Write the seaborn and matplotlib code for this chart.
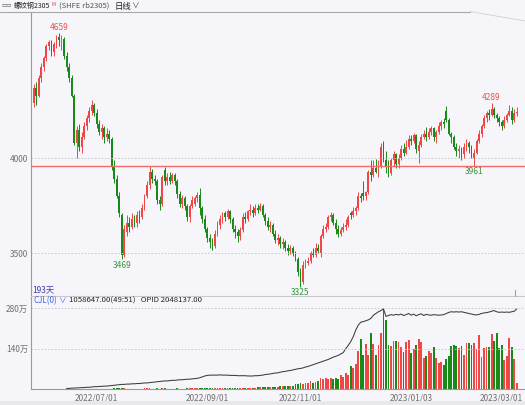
import numpy as np
import pandas as pd
import matplotlib
matplotlib.use('Agg')
import matplotlib.pyplot as plt
from matplotlib.lines import Line2D
from matplotlib.patches import Rectangle
import seaborn as sns

# Daily bars, rb2305 (SHFE)
opens = [4290, 4370, 4330, 4420, 4480, 4530, 4590, 4610, 4560, 4600,
         4640, 4620, 4630, 4540, 4480, 4420, 4330, 4080, 4150, 4060,
         4110, 4170, 4210, 4250, 4280, 4240, 4180, 4140, 4160, 4110,
         4130, 4100, 3960, 3890, 3800, 3700, 3490, 3610, 3660, 3640,
         3680, 3660, 3700, 3690, 3740, 3800, 3860, 3930, 3890, 3880,
         3780, 3760, 3940, 3880, 3900, 3880, 3910, 3880, 3810, 3760,
         3790, 3750, 3690, 3750, 3760, 3790, 3805, 3740, 3680, 3630,
         3580, 3560, 3540, 3600, 3650, 3680, 3710, 3690, 3720, 3680,
         3630, 3610, 3590, 3620, 3690, 3680, 3720, 3730, 3710, 3740,
         3730, 3750, 3700, 3670, 3640, 3650, 3600, 3570, 3580, 3550,
         3560, 3530, 3510, 3530, 3500, 3470, 3400, 3350, 3440, 3450,
         3460, 3500, 3490, 3530, 3500, 3590, 3630, 3640, 3690, 3700,
         3660, 3630, 3600, 3620, 3640, 3650, 3710, 3700, 3720, 3740,
         3800, 3815, 3800, 3820, 3930, 3910, 3950, 3930, 3960, 4080,
         3990, 3960, 3920, 3990, 4020, 3970, 4000, 4050, 4030, 4060,
         4100, 4090, 4120, 4040, 4070, 4110, 4130, 4110, 4140, 4160,
         4110, 4140, 4170, 4190, 4250, 4200, 4130, 4110, 4060, 4040,
         4050, 4020, 4060, 4080, 4060, 4000, 4030, 4090, 4130, 4170,
         4210, 4240, 4230, 4260, 4230, 4210, 4190, 4170, 4200, 4230,
         4250, 4200, 4240]
highs = [4390, 4400, 4440, 4500, 4540, 4600, 4625, 4620, 4610, 4650,
         4659, 4650, 4640, 4560, 4500, 4440, 4340, 4170, 4180, 4140,
         4190, 4230, 4270, 4306, 4290, 4260, 4200, 4180, 4170, 4160,
         4150, 4110, 3990, 3910, 3820, 3710, 3650, 3700, 3690, 3710,
         3700, 3720, 3730, 3760, 3810, 3880, 3961, 3945, 3910, 3890,
         3800, 3910, 3955, 3920, 3930, 3925, 3920, 3890, 3830, 3805,
         3800, 3760, 3760, 3800, 3800, 3820, 3845, 3750, 3700, 3640,
         3600, 3580, 3620, 3670, 3700, 3716, 3720, 3735, 3730, 3690,
         3650, 3630, 3640, 3710, 3715, 3730, 3760, 3750, 3760, 3760,
         3764, 3760, 3710, 3690, 3670, 3660, 3620, 3600, 3590, 3580,
         3570, 3550, 3545, 3540, 3510, 3480, 3420, 3460, 3470, 3480,
         3510, 3530, 3555, 3550, 3600, 3650, 3660, 3700, 3717, 3710,
         3680, 3650, 3640, 3660, 3680, 3700, 3720, 3745, 3750, 3820,
         3815, 3880, 3830, 3940, 3990, 3990, 3995, 3990, 4080, 4090,
         4040, 3990, 4000, 4040, 4030, 4020, 4070, 4080, 4096, 4120,
         4120, 4133, 4130, 4090, 4130, 4150, 4164, 4160, 4170, 4165,
         4150, 4190, 4200, 4210, 4275, 4210, 4140, 4120, 4080, 4070,
         4060, 4080, 4100, 4090, 4070, 4050, 4100, 4150, 4180, 4230,
         4250, 4260, 4289, 4270, 4240, 4220, 4200, 4220, 4240, 4280,
         4270, 4260, 4270]
lows = [4270, 4280, 4320, 4400, 4460, 4510, 4570, 4540, 4540, 4580,
        4590, 4570, 4520, 4460, 4400, 4320, 4070, 4000, 4040, 4030,
        4100, 4150, 4190, 4230, 4220, 4160, 4120, 4100, 4080, 4090,
        4080, 3940, 3870, 3790, 3690, 3469, 3480, 3590, 3610, 3630,
        3640, 3640, 3660, 3680, 3730, 3790, 3840, 3870, 3860, 3760,
        3727, 3750, 3860, 3860, 3865, 3870, 3860, 3790, 3745, 3740,
        3730, 3670, 3665, 3740, 3750, 3770, 3700, 3660, 3610, 3560,
        3530, 3517, 3530, 3590, 3630, 3660, 3670, 3680, 3660, 3610,
        3580, 3560, 3570, 3610, 3660, 3670, 3700, 3690, 3700, 3710,
        3720, 3690, 3650, 3620, 3610, 3590, 3555, 3545, 3530, 3520,
        3510, 3490, 3495, 3485, 3460, 3380, 3325, 3340, 3425, 3440,
        3450, 3480, 3480, 3500, 3480, 3580, 3610, 3630, 3670, 3650,
        3600, 3585, 3590, 3610, 3620, 3640, 3680, 3690, 3700, 3730,
        3770, 3780, 3780, 3810, 3880, 3900, 3920, 3900, 3950, 3980,
        3920, 3900, 3910, 3960, 3950, 3950, 3990, 4010, 4020, 4050,
        4070, 4080, 4030, 3975, 4060, 4100, 4090, 4100, 4120, 4090,
        4080, 4130, 4150, 4160, 4190, 4120, 4080, 4050, 4010, 4000,
        3990, 4000, 4040, 4030, 4000, 3961, 4020, 4080, 4110, 4160,
        4190, 4200, 4220, 4210, 4190, 4170, 4150, 4160, 4190, 4220,
        4180, 4190, 4220]
closes = [4370, 4330, 4420, 4480, 4530, 4590, 4610, 4560, 4600, 4640,
          4620, 4630, 4540, 4480, 4420, 4330, 4080, 4150, 4060, 4110,
          4170, 4210, 4250, 4280, 4240, 4180, 4140, 4160, 4110, 4130,
          4100, 3960, 3890, 3800, 3710, 3490, 3630, 3660, 3640, 3680,
          3660, 3700, 3690, 3740, 3800, 3860, 3930, 3890, 3880, 3780,
          3760, 3900, 3880, 3900, 3880, 3910, 3880, 3810, 3760, 3790,
          3750, 3690, 3750, 3780, 3790, 3805, 3740, 3680, 3630, 3580,
          3560, 3540, 3600, 3650, 3680, 3710, 3690, 3720, 3680, 3630,
          3610, 3590, 3620, 3690, 3680, 3720, 3730, 3710, 3740, 3730,
          3750, 3700, 3670, 3640, 3650, 3600, 3570, 3580, 3550, 3560,
          3530, 3510, 3530, 3500, 3470, 3400, 3345, 3440, 3450, 3460,
          3500, 3490, 3530, 3510, 3590, 3630, 3640, 3690, 3700, 3660,
          3630, 3600, 3620, 3640, 3650, 3690, 3700, 3720, 3740, 3800,
          3790, 3800, 3820, 3930, 3910, 3950, 3930, 3960, 4060, 3990,
          3960, 3920, 3990, 4020, 3970, 4000, 4050, 4030, 4060, 4100,
          4090, 4120, 4050, 4070, 4110, 4130, 4110, 4140, 4160, 4110,
          4140, 4170, 4190, 4180, 4200, 4130, 4110, 4060, 4040, 4050,
          4020, 4060, 4080, 4060, 4030, 4030, 4090, 4130, 4170, 4210,
          4240, 4230, 4260, 4230, 4210, 4190, 4170, 4200, 4230, 4250,
          4200, 4240, 4245]

# volume (CJL) in 万手
volumes = [0.3, 0.2, 0.4, 0.3, 0.2, 0.5, 0.4, 0.3, 0.6, 0.5,
           0.4, 0.7, 0.5, 0.6, 0.8, 0.7, 1.2, 0.9, 0.8, 0.7,
           0.9, 0.8, 1.0, 0.9, 0.8, 1.1, 1.0, 0.9, 1.0, 1.1,
           1.2, 2.5, 2.8, 3.0, 3.6, 4.2, 3.2, 2.4, 2.1, 1.8,
           2.2, 1.9, 2.3, 2.6, 2.9, 3.1, 3.8, 2.7, 2.2, 2.9,
           2.5, 3.0, 3.3, 2.4, 2.2, 2.1, 2.6, 2.9, 2.7, 2.3,
           2.5, 3.2, 3.5, 3.0, 2.8, 3.3, 4.6, 4.2, 4.8, 5.0,
           4.6, 4.2, 4.5, 4.0, 3.8, 4.1, 3.9, 4.3, 4.6, 5.2,
           5.0, 5.5, 4.8, 5.3, 4.9, 5.1, 5.6, 6.2, 5.8, 6.4,
           7.5, 9.0, 8.2, 7.8, 8.6, 9.5, 8.8, 9.2, 10.5, 9.8,
           10.2, 11.0, 10.4, 11.5, 19, 18, 22, 20, 23, 21,
           27, 23, 25, 28, 40, 34, 40, 36, 40, 34,
           40, 36, 48, 43, 57, 51, 82, 74, 89, 133,
           174, 120, 156, 120, 193, 156, 117, 154, 193, 277,
           241, 154, 151, 167, 167, 163, 146, 130, 162, 171,
           125, 140, 154, 173, 165, 108, 114, 133, 125, 145,
           108, 91, 93, 83, 106, 114, 151, 154, 148, 142,
           148, 120, 159, 159, 154, 159, 139, 188, 112, 142,
           145, 145, 191, 168, 193, 142, 154, 100, 114, 176,
           146, 106, 23]

# open interest (OPID) in 万手, nothing before the contract got going
open_interest = [None] * 13 + [
    3, 3, 4, 4, 5, 5, 6, 6, 7, 7,
    8, 9, 9, 10, 10, 11, 11, 12, 13, 14,
    15, 16, 17, 17, 18, 18, 19, 19, 20, 20,
    21, 22, 22, 23, 24, 25, 26, 27, 28, 29,
    29, 30, 31, 31, 32, 33, 33, 34, 35, 35,
    36, 37, 38, 40, 43, 46, 48, 49, 49, 49,
    49, 50, 49, 49, 49, 48, 48, 48, 47, 47,
    47, 47, 46, 46, 46, 47, 47, 48, 49, 51,
    52, 53, 55, 56, 57, 59, 61, 62, 64, 65,
    67, 69, 71, 72, 74, 77, 79, 82, 85, 88,
    91, 94, 97, 100, 103, 107, 111, 114, 117, 122,
    127, 140, 152, 165, 182, 205, 222, 232, 234, 237,
    240, 245, 256, 262, 268, 272, 278, 252, 255, 258,
    256, 259, 257, 260, 255, 258, 262, 256, 260, 254,
    258, 261, 255, 259, 257, 256, 258, 257, 256, 257,
    258, 262, 266, 268, 267, 268, 267, 268, 266, 264,
    262, 260, 258, 257, 259, 262, 264, 265, 267, 270,
    272, 268, 266, 267, 266, 267, 266, 268, 270, 278]

holidays = ['2022-06-03', '2022-09-12', '2022-10-03', '2022-10-04', '2022-10-05',
            '2022-10-06', '2022-10-07', '2023-01-02', '2023-01-23', '2023-01-24',
            '2023-01-25', '2023-01-26', '2023-01-27']
date_labels = ['2022/07/01', '2022/09/01', '2022/11/01', '2023/01/03', '2023/03/01']
high_marks = [4659, 4289]
low_marks = [3469, 3325, 3961]
support_level = 3961

trade_days = pd.bdate_range('2022-05-26', '2023-03-09', freq='C', holidays=holidays)
df = pd.DataFrame({'date': trade_days, 'open': opens, 'high': highs, 'low': lows,
                   'close': closes, 'vol': volumes,
                   'oi': pd.to_numeric(pd.Series(open_interest), errors='coerce')})
df['idx'] = np.arange(len(df))

RED = '#f04646'
GREEN = '#178a17'
BG = '#f5f5fa'
colors = np.where(df['close'] >= df['open'], RED, GREEN)

sns.set_theme(style='white', rc={'axes.facecolor': BG, 'figure.facecolor': BG})
plt.rcParams['font.family'] = ['Noto Sans CJK SC', 'DejaVu Sans']

W, H = 525, 405
fig = plt.figure(figsize=(W / 100, H / 100), dpi=100)

def fx(px):
    return px / W

def fy(py):
    return 1 - py / H

ax = fig.add_axes([fx(31), fy(296), fx(525) - fx(31), fy(12) - fy(296)])
axv = fig.add_axes([fx(31), fy(389.3), fx(525) - fx(31), fy(297) - fy(389.3)])
xlim = (-1.12, 195.27)

# candles
ax.vlines(df['idx'], df['low'], df['high'], colors=colors, lw=0.7)
body = (df['close'] - df['open']).abs().clip(lower=3)
ax.bar(df['idx'], body, bottom=df[['open', 'close']].min(axis=1), width=0.72,
       color=colors, linewidth=0)
ax.axhline(support_level, color='#f26a6a', lw=1.0)
for lvl in (3500, 4000):
    ax.axhline(lvl, color='#c4c4c8', lw=0.6, ls=(0, (2, 2)))

for v in high_marks:
    i = int(df.index[df['high'] == v][0])
    ax.annotate(str(v), xy=(i, v), xytext=(0, 1), textcoords='offset points',
                ha='center', va='bottom', fontsize=6, color='#f05050')
for v in low_marks:
    i = int(df.index[df['low'] == v][0])
    ax.annotate(str(v), xy=(i, v), xytext=(0, -1), textcoords='offset points',
                ha='center', va='top', fontsize=6, color='#3a953a')

ax.set_xlim(xlim)
ax.set_ylim(3275, 4770)
ax.set_xticks([])
ax.set_yticks([3500, 4000])
ax.tick_params(axis='y', labelsize=6, colors='#707070', length=0, pad=2)
for s in ['top', 'right']:
    ax.spines[s].set_visible(False)
ax.spines['left'].set_color('#9a9a9a')
ax.spines['left'].set_linewidth(0.8)
ax.spines['bottom'].set_color('#c8c8cc')
ax.spines['bottom'].set_linewidth(0.8)

# volume + open interest
axv.bar(df['idx'], df['vol'], width=0.72, color=colors, linewidth=0)
sns.lineplot(data=df, x='idx', y='oi', ax=axv, color='#3c3c3c', lw=0.75)
for lvl in (140, 280):
    axv.axhline(lvl, color='#c4c4c8', lw=0.6, ls=(0, (2, 2)))
axv.set_xlim(xlim)
axv.set_ylim(0, 319)
axv.set_yticks([140, 280])
axv.set_yticklabels(['140万', '280万'])
tick_pos = [trade_days.get_loc(pd.Timestamp(d.replace('/', '-'))) for d in date_labels]
axv.set_xticks(tick_pos)
axv.set_xticklabels(date_labels)
axv.tick_params(labelsize=6, colors='#707070', length=0)
axv.tick_params(axis='y', pad=2)
axv.tick_params(axis='x', pad=3)
axv.set_xlabel('')
axv.set_ylabel('')
for s in ['top', 'right']:
    axv.spines[s].set_visible(False)
for s in ['left', 'bottom']:
    axv.spines[s].set_color('#9a9a9a')
    axv.spines[s].set_linewidth(0.8)

# header
fig.add_artist(Line2D([0, fx(470)], [fy(11.5), fy(11.5)], color='#a8a8ac', lw=0.8))
fig.add_artist(Line2D([fx(470), 1], [fy(11.5), fy(21)], color='#d0d0d4', lw=0.6))
fig.add_artist(Rectangle((0, 0), 1, fy(401), color='#e8e8ec', lw=0))
fig.text(fx(1), fy(6), '▭▭', fontsize=4, color='#555555', va='center',
         family=['DejaVu Sans'])
fig.text(fx(14), fy(6), '螺纹钢2305', fontsize=5, color='#222222', va='center')
fig.text(fx(52), fy(4), 'M', fontsize=3.5, color='#e04040', va='center')
fig.text(fx(59), fy(6), '(SHFE rb2305)', fontsize=5.5, color='#555555', va='center')
fig.text(fx(115), fy(6), '日线', fontsize=6, color='#222222', va='center')
fig.text(fx(131), fy(6), '∨', fontsize=5.5, color='#444444', va='center')

fig.text(fx(32), fy(290), '193天', fontsize=6, color='#3a3aa8', va='center')
fig.add_artist(Line2D([fx(515), fx(515)], [fy(290), fy(296)], color='#a0a0a0', lw=0.8))
fig.text(fx(34), fy(301), 'CJL(0)', fontsize=5.8, color='#4466dd', va='center')
fig.text(fx(58), fy(301), '∨', fontsize=5.5, color='#4466dd', va='center')
fig.text(fx(69), fy(301), '1058647.00(49:51)   OPID 2048137.00', fontsize=5.6,
         color='#222222', va='center')

fig.savefig('out.png', dpi=100, facecolor=BG)
